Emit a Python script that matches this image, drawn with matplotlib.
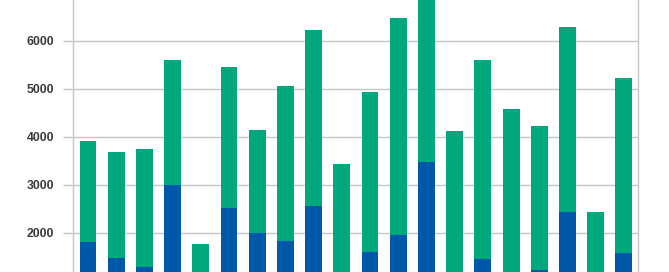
import matplotlib
matplotlib.use("Agg")
from matplotlib import pyplot as plt
import numpy as np

# 20 categories, stacked: blue at the bottom, green on top
categories = [str(i) for i in range(1, 21)]
totals = [3917, 3681, 3750, 5611, 1778, 5451, 4146, 5063, 6236, 3444,
          4938, 6479, 6950, 4125, 5597, 4590, 4229, 6292, 2438, 5236]
blue = [1812, 1486, 1292, 2990, 900, 2514, 1993, 1833, 2562, 950,
        1611, 1958, 3486, 900, 1465, 1000, 1222, 2431, 900, 1590]
green = [t - b for t, b in zip(totals, blue)]
yticks = [2000, 3000, 4000, 5000, 6000]

BLUE = "#0058ab"
GREEN = "#00a87e"
GRID = "#c6c6c6"

plt.rcParams['font.family'] = ['Liberation Sans', 'DejaVu Sans']

fig = plt.figure(figsize=(6.69, 2.72), dpi=100)
ax = fig.add_axes([73.3 / 669, 0, (637.7 - 73.3) / 669, 1])

x = np.arange(len(categories))
ax.bar(x, blue, width=0.6, color=BLUE, zorder=3)
ax.bar(x, green, width=0.6, bottom=blue, color=GREEN, zorder=3)

ax.set_xlim(-0.52, 19.49)
ax.set_ylim(1187, 6854)
ax.set_yticks(yticks)
ax.set_yticklabels([str(v) for v in yticks], fontweight='bold')
ax.set_xticks([])

ax.grid(axis='y', color=GRID, linewidth=1, zorder=0)
for s in ['top', 'bottom']:
    ax.spines[s].set_visible(False)
for s in ['left', 'right']:
    ax.spines[s].set_color(GRID)
    ax.spines[s].set_linewidth(1)

ax.tick_params(axis='y', length=7.2, width=1, color=GRID, pad=6.5,
               labelsize=8.8, labelcolor="#3a3a3a")

fig.savefig("out.png", dpi=100)
